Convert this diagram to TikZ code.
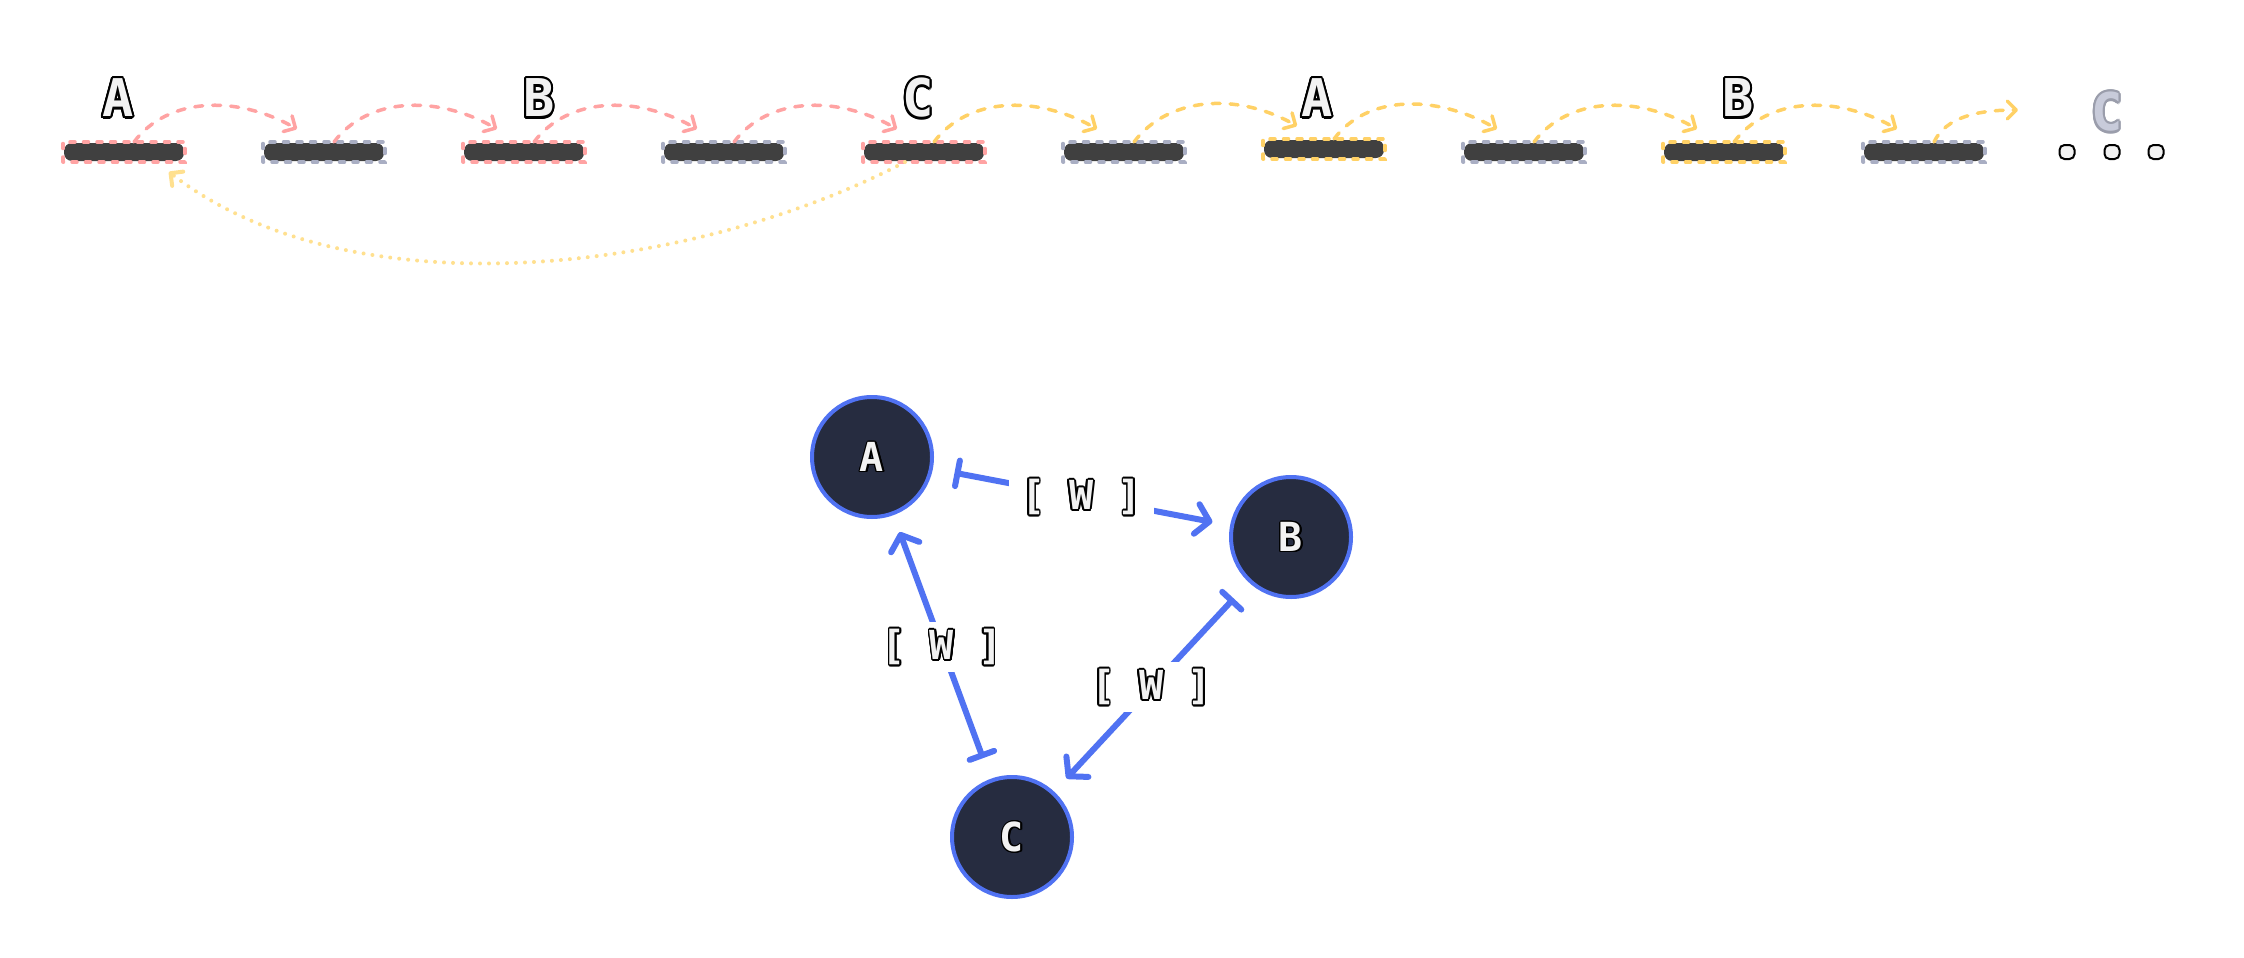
\documentclass[tikz,border=0pt]{standalone}
\usepackage{fontspec}
\newfontfamily\dmono{DejaVu Sans Mono}
\usetikzlibrary{arrows.meta}
\definecolor{pinkc}{HTML}{FFA3A3}
\definecolor{yelc}{HTML}{FFD166}
\definecolor{grayb}{HTML}{A9AEC3}
\definecolor{barfill}{HTML}{404040}
\definecolor{dotc}{HTML}{FFE08F}
\definecolor{blueE}{HTML}{5072F2}
\definecolor{navy}{HTML}{262C40}
\definecolor{letfill}{HTML}{F2F2F2}
\definecolor{grayfill}{HTML}{C8CBDA}
\definecolor{graystroke}{HTML}{9A9DAB}
% outlined text: #1 fill colour, #2 outline colour, #3 outline width, #4 text
\newcommand\osh[3]{\rlap{\kern\dimexpr#1\relax\raise\dimexpr#2\relax\hbox{#3}}}
\newcommand\outl[4]{{\color{#2}%
 \osh{#3}{0pt}{#4}\osh{-#3}{0pt}{#4}\osh{0pt}{#3}{#4}\osh{0pt}{-#3}{#4}%
 \osh{#3*707/1000}{#3*707/1000}{#4}\osh{-#3*707/1000}{#3*707/1000}{#4}%
 \osh{#3*707/1000}{-#3*707/1000}{#4}\osh{-#3*707/1000}{-#3*707/1000}{#4}%
 \osh{#3*924/1000}{#3*383/1000}{#4}\osh{-#3*924/1000}{#3*383/1000}{#4}%
 \osh{#3*924/1000}{-#3*383/1000}{#4}\osh{-#3*924/1000}{-#3*383/1000}{#4}%
 \osh{#3*383/1000}{#3*924/1000}{#4}\osh{-#3*383/1000}{#3*924/1000}{#4}%
 \osh{#3*383/1000}{-#3*924/1000}{#4}\osh{-#3*383/1000}{-#3*924/1000}{#4}}%
 {\color{#1}#4}}
\tikzset{
  bar/.style={fill=barfill, rounded corners=8pt, minimum width=120pt, minimum height=18pt, inner sep=0pt, outer sep=0pt},
  barframe/.style={line width=3.5pt, dash pattern=on 5pt off 8.5pt, line cap=round},
  arcline/.style={line width=3.5pt, dash pattern=on 8pt off 10pt, line cap=round, arrows={-Straight Barb[length=9pt,width=18pt,round]}},
  dotline/.style={draw=dotc, line width=4pt, dash pattern=on 0pt off 9pt, line cap=round, arrows={-Straight Barb[length=9pt,width=18pt,round]}},
  bigletter/.style={inner sep=0pt, font=\dmono\bfseries\fontsize{52}{60}\selectfont},
  dotbox/.style={draw=black, fill=letfill, line width=2pt, rounded corners=5pt, minimum width=15pt, minimum height=14pt, inner sep=0pt},
  gnode/.style={circle, fill=navy, draw=blueE, line width=4pt, minimum size=120pt, inner sep=0pt, font=\dmono\bfseries\fontsize{40}{44}\selectfont},
  gedge/.style={draw=blueE, line width=6pt, line cap=round, arrows={Bar[width=26pt,round]-Straight Barb[length=13pt,width=30pt,round]}, shorten <=22pt, shorten >=18pt},
  wlabel/.style={fill=white, inner xsep=12pt, inner ysep=6pt, font=\dmono\bfseries\fontsize{40}{44}\selectfont},
}
\begin{document}
\begin{tikzpicture}[x=1pt,y=-1pt]
\fill[white] (0,0) rectangle (2244,958);
\useasboundingbox (0,0) rectangle (2244,958);
% bars
\foreach \i/\col in {0/pinkc,1/grayb,2/pinkc,3/grayb,4/pinkc,5/grayb,6/yelc,7/grayb,8/yelc,9/grayb} {
  \pgfmathsetmacro\yy{\i==6 ? 149 : 152}
  \node[bar] (b\i) at ({124+200*\i},\yy) {};
  \draw[barframe, draw=\col] ([shift={(-1,1)}]b\i.south west) rectangle ([shift={(1,-1)}]b\i.north east);
}
% letters
\node[bigletter] (lA1) at (118,98) {\outl{letfill}{black}{2.2pt}{A}};
\node[bigletter] (lB1) at (539,98) {\outl{letfill}{black}{2.2pt}{B}};
\node[bigletter] (lC1) at (918,98) {\outl{letfill}{black}{2.2pt}{C}};
\node[bigletter] (lA2) at (1317,98) {\outl{letfill}{black}{2.2pt}{A}};
\node[bigletter] (lB2) at (1738,98) {\outl{letfill}{black}{2.2pt}{B}};
\node[bigletter] (lC2) at (2107,112) {\outl{grayfill}{graystroke}{2.2pt}{C}};
\node[dotbox] (d1) at (2067,152) {};
\node[dotbox] (d2) at (2112,152) {};
\node[dotbox] (d3) at (2156,152) {};
% arcs
\foreach \i/\j/\col in {0/1/pinkc,1/2/pinkc,2/3/pinkc,3/4/pinkc,4/5/yelc,5/6/yelc,6/7/yelc,7/8/yelc,8/9/yelc}
  \draw[arcline, draw=\col] ([xshift=10pt,yshift=1pt]b\i.north) .. controls +(33,-44) and +(-62,-35) .. ([xshift=-27pt,yshift=14pt]b\j.north);
\coordinate (tail) at (2018,110);
\draw[arcline, draw=yelc] ([xshift=10pt,yshift=1pt]b9.north) .. controls +(12,-25) and +(-40,0) .. (tail);
% dotted return
\draw[dotline] ([xshift=-19pt,yshift=-1pt]b4.south) .. controls +(-205,108) and +(187,145) .. ([xshift=-15pt,yshift=-11pt]b0.south east);
% graph
\node[gnode] (A) at (872,457) {\outl{letfill}{black}{1.3pt}{A}};
\node[gnode] (B) at (1291,537) {\outl{letfill}{black}{1.3pt}{B}};
\node[gnode] (C) at (1012,837) {\outl{letfill}{black}{1.3pt}{C}};
\draw[gedge] (A) -- node[wlabel] (wAB) {\outl{letfill}{black}{1.6pt}{[ W ]}} (B);
\draw[gedge] (B) -- node[wlabel] (wBC) {\outl{letfill}{black}{1.6pt}{[ W ]}} (C);
\draw[gedge] (C) -- node[wlabel] (wCA) {\outl{letfill}{black}{1.6pt}{[ W ]}} (A);
\end{tikzpicture}
\end{document}
